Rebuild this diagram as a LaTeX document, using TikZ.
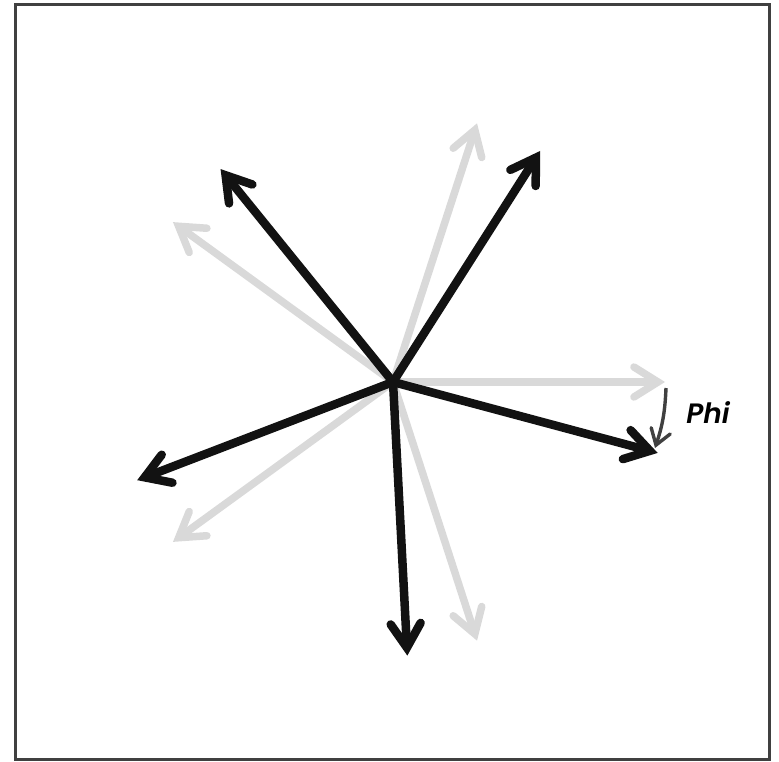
\documentclass[tikz,border=0pt]{standalone}
\usepackage{fontspec}
\setmainfont{Poppins}
\newfontfamily\phifont{Poppins}[UprightFont=* SemiBold, ItalicFont=* SemiBold Italic]
\usetikzlibrary{arrows.meta,calc}
\begin{document}
\begin{tikzpicture}[x=1pt,y=-1pt,
  grayarr/.style={line width=7.5pt,draw=black!15,-{Straight Barb[line cap=round,line join=miter,length=24pt,width=30pt]},line cap=round},
  blackarr/.style={line width=8.5pt,draw=black!93,-{Straight Barb[line cap=round,line join=miter,length=24pt,width=30pt]},line cap=round},
  phiarr/.style={line width=3.4pt,draw=black!75,-{Straight Barb[line cap=round,line join=miter,length=15pt,width=20pt]}}]
\useasboundingbox (0,0) rectangle (779,762);
\node[draw=black!75,line width=3pt,minimum width=754pt,minimum height=754pt,inner sep=0pt] (frame) at (392.5,382) {};
\coordinate (c) at (393,382);
\foreach \a/\n in {0/g0,72/g1,144/g2,216/g3,288/g4} {
  \coordinate (\n) at ($(c)+(-\a:272)$);
}
\foreach \n in {g0,g1,g2,g3,g4} { \draw[grayarr] (c) -- (\n); }
\foreach \a/\n in {-15/b0,57.5/b1,129/b2,201/b3,273/b4} {
  \coordinate (\n) at ($(c)+(-\a:274)$);
}
\foreach \n in {b0,b1,b2,b3,b4} { \draw[blackarr] (c) -- (\n); }
\coordinate (p0) at (666,388);
\coordinate (p1) at (655,448);
\draw[phiarr] (p0) to[bend left=8] (p1);
\node[font=\phifont\itshape\fontsize{28pt}{30pt}\selectfont] (phi) at (708,413) {Phi};
\end{tikzpicture}
\end{document}
